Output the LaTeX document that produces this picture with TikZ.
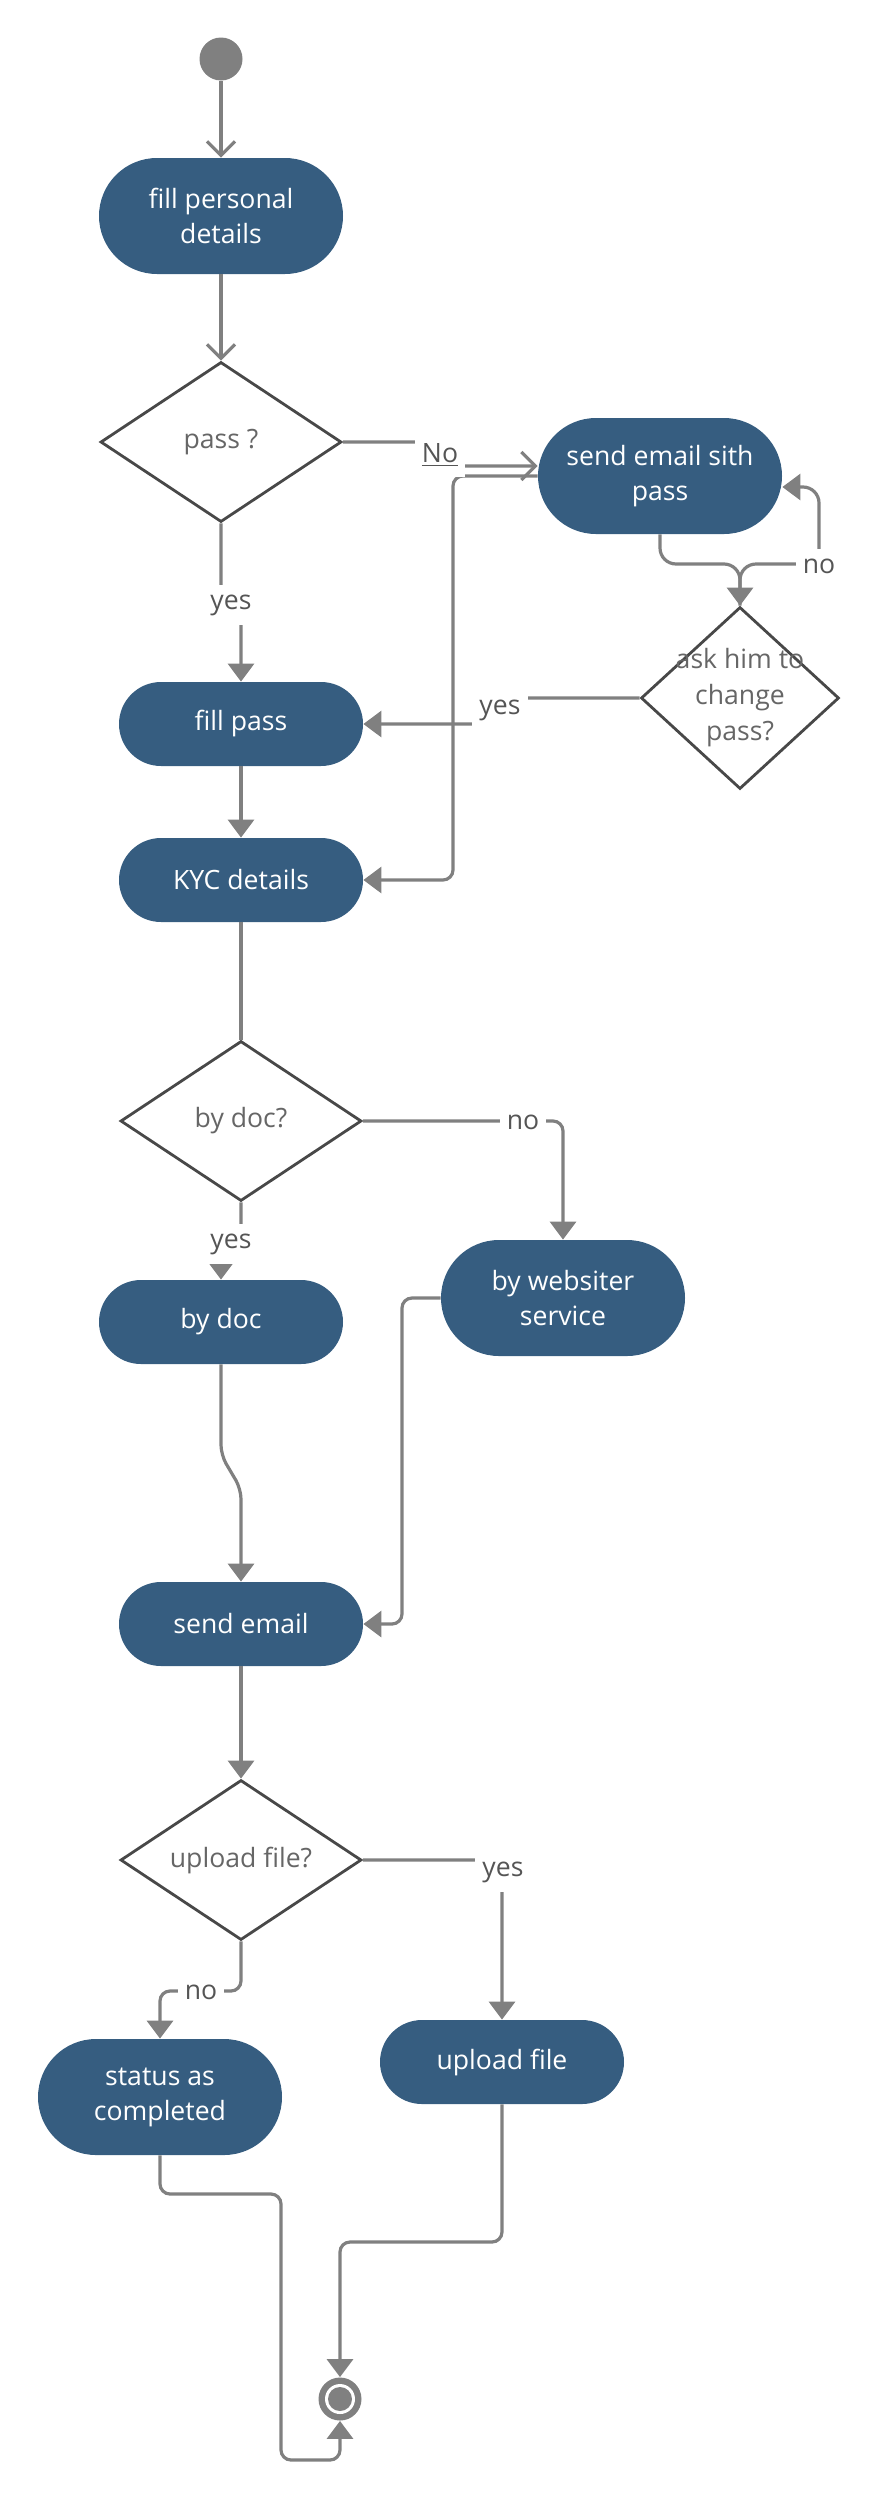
\documentclass[tikz,border=0pt]{standalone}
\usepackage{fontspec}
\setmainfont{Open Sans}
\usetikzlibrary{shapes.geometric,arrows.meta}
\definecolor{actblue}{RGB}{54,93,128}
\definecolor{flowgray}{RGB}{128,128,128}
\definecolor{edgegray}{RGB}{72,72,72}
\definecolor{txtgray}{RGB}{102,102,102}
\definecolor{lblgray}{RGB}{85,85,85}

\begin{document}
\begin{tikzpicture}[x=0.5pt, y=-0.5pt,
  act/.style={rectangle, rounded corners=21pt, fill=actblue, text=white, align=center,
    minimum width=122pt, minimum height=42pt, inner sep=0pt, font=\fontsize{13.3}{17.5}\selectfont},
  acttwo/.style={act, rounded corners=29pt, minimum height=58pt},
  decision/.style={diamond, draw=edgegray, line width=1.4pt, fill=white, inner sep=0pt,
    minimum width=120.5pt, minimum height=80pt},
  dtext/.style={text=txtgray, align=center, font=\fontsize{13.3}{18}\selectfont},
  flow/.style={draw=flowgray, line width=1.6pt, rounded corners=5pt, -{Triangle[width=13pt,length=9pt]}},
  openflow/.style={flow, -{Straight Barb[width=14pt,length=7pt]}},
  plain/.style={flow, -},
  guard/.style={fill=white, text=lblgray, inner xsep=3.5pt, inner ysep=5pt, font=\fontsize{13.3}{16}\selectfont},
  startnode/.style={circle, fill=flowgray, minimum size=21.5pt, inner sep=0pt},
  endnode/.style={startnode, path picture={
    \fill[white] (path picture bounding box.center) circle (7.5pt);
    \fill[flowgray] (path picture bounding box.center) circle (6pt);}}
]
\useasboundingbox (0,0) rectangle (877,2500);

%Aloitus ja rekisterointi
\node[startnode] (start) at (221,59) {};
\node[acttwo] (fpd) at (221,216) {fill personal\\details};
\node[decision, label={[dtext]center:pass ?}] (pass) at (221,442) {};
\node[acttwo] (send) at (660,476) {send email sith\\pass};
\node[decision, minimum width=99pt, minimum height=91pt,
  label={[dtext]center:{ask him to\\change\\pass?}}] (ask) at (740,698) {};
\node[act] (fpass) at (241,724) {fill pass};
\node[act] (kyc) at (241,880) {KYC details};

%KYC
\node[decision, label={[dtext]center:by doc?}] (bydoc) at (241,1121) {};
\node[acttwo] (web) at (563,1298) {by websiter\\service};
\node[act] (doc) at (221,1322) {by doc};
\node[act] (mail) at (241,1624) {send email};

%Tiedosto
\node[decision, label={[dtext]center:upload file?}] (upload) at (241,1860) {};
\node[act] (upl) at (502,2062) {upload file};
\node[acttwo] (status) at (160,2097) {status as\\completed};
\node[endnode] (end) at (340,2399) {};

%Nuolet
\draw[openflow] (start) -- (fpd);
\draw[openflow] (fpd) -- (pass);
\draw[openflow] (pass.east) -- (440,442) -- (440,466) -- ([yshift=5pt]send.west);
\draw[flow] (send.west) -- (453,476) -- (453,880) -- (kyc.east);
\draw[flow, rounded corners=8pt] (send.south) -- (660,564) -- (740,564) -- (ask.north);
\draw[flow, rounded corners=8pt] (ask.north) -- (740,564) -- (819,564) -- (819,487) -- ([yshift=-5.5pt]send.east);
\draw[flow] (ask.west) -- (500,698) -- (500,724) -- (fpass.east);
\draw[flow] (pass.south) -- (221,605) -- (241,605) -- (fpass.north);
\draw[flow] (fpass) -- (kyc);
\draw[plain] (kyc) -- (bydoc);
\draw[flow] (bydoc.east) -- (563,1121) -- (web.north);
\draw[flow] (bydoc.south) -- (241,1244) -- (221,1244) -- (doc.north);
\draw[flow] (doc.south) -- (221,1455) -- (241,1489) -- (mail.north);
\draw[flow] (web.west) -- (402,1298) -- (402,1624) -- (mail.east);
\draw[flow] (mail) -- (upload);
\draw[flow] (upload.east) -- (502,1860) -- (upl.north);
\draw[flow] (upload.south) -- (241,1991) -- (160,1991) -- (status.north);
\draw[flow] (status.south) -- (160,2194) -- (281,2194) -- (281,2460) -- (340,2460) -- (end.south);
\draw[flow] (upl.south) -- (502,2242) -- (340,2242) -- (end.north);

%Ehdot
\node[guard] (gno1) at (440,455) {\underline{No}};
\node[guard] (gno2) at (819,566) {no};
\node[guard] (gyes1) at (231,605) {yes};
\node[guard] (gyes2) at (500,710) {yes};
\node[guard] (gno3) at (523,1122) {no};
\node[guard] (gyes3) at (231,1244) {yes};
\node[guard] (gyes4) at (503,1872) {yes};
\node[guard] (gno4) at (201,1992) {no};

\end{tikzpicture}
\end{document}
